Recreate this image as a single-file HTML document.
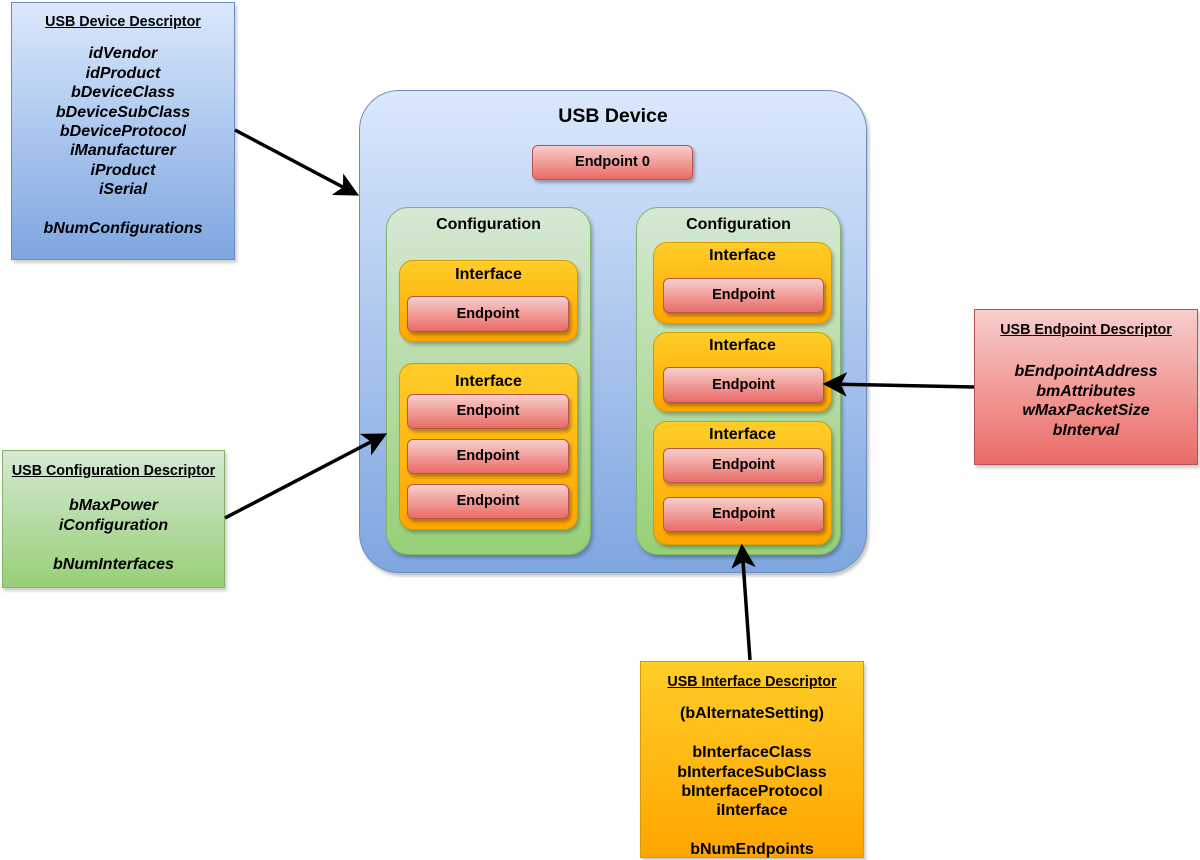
<!DOCTYPE html>
<html><head><meta charset="utf-8"><style>
body{margin:0;width:1200px;height:859px;background:#fff;position:relative;overflow:hidden;font-family:"Liberation Sans",sans-serif;font-weight:bold;color:#000}
.a{position:absolute;box-sizing:border-box}
.dev{left:359px;top:90px;width:508px;height:483px;border-radius:40px;border:1px solid #6c8ebf;background:linear-gradient(#dae8fc,#7ea6e0);box-shadow:2px 3px 3px rgba(0,0,0,.25)}
.cfg{border-radius:22px;border:1px solid #82b366;background:linear-gradient(#d5e8d4,#97d077);box-shadow:2px 3px 3px rgba(0,0,0,.25)}
.itf{border-radius:14px;border:1px solid #d79b00;background:linear-gradient(#ffcd28,#ffa500);box-shadow:2px 3px 3px rgba(0,0,0,.25)}
.ep{border-radius:6px;border:1px solid #b85450;background:linear-gradient(#f8cecc,#ea6b66);box-shadow:2px 3px 3px rgba(0,0,0,.3);text-align:center;font-size:14.5px}
.t{position:absolute;left:0;right:0;text-align:center;font-size:16px}
.desc{text-align:center;font-size:16px;line-height:19.4px;font-style:italic;border:1px solid;box-shadow:2px 3px 3px rgba(0,0,0,.2)}
.desc u{font-style:normal;font-size:14.3px}
</style></head><body>
<div class="a desc" style="left:11px;top:2px;width:224px;height:258px;border-color:#6c8ebf;background:linear-gradient(#dae8fc,#7ea6e0);padding-top:9px"><u>USB Device Descriptor</u><div style="height:12px"></div>idVendor<br>idProduct<br>bDeviceClass<br>bDeviceSubClass<br>bDeviceProtocol<br>iManufacturer<br>iProduct<br>iSerial<br><br>bNumConfigurations</div>
<div class="a desc" style="left:2px;top:450px;width:223px;height:138px;border-color:#82b366;background:linear-gradient(#d5e8d4,#97d077);padding-top:10px"><u>USB Configuration Descriptor</u><div style="height:15px"></div>bMaxPower<br>iConfiguration<br><br>bNumInterfaces</div>
<div class="a desc" style="left:974px;top:309px;width:224px;height:156px;border-color:#b85450;background:linear-gradient(#f8cecc,#ea6b66);padding-top:10px"><u>USB Endpoint Descriptor</u><div style="height:22px"></div>bEndpointAddress<br>bmAttributes<br>wMaxPacketSize<br>bInterval</div>
<div class="a desc" style="left:640px;top:661px;width:224px;height:197px;border-color:#d79b00;background:linear-gradient(#ffcd28,#ffa500);padding-top:10px;font-style:normal"><u>USB Interface Descriptor</u><div style="height:12px"></div>(bAlternateSetting)<br><br>bInterfaceClass<br>bInterfaceSubClass<br>bInterfaceProtocol<br>iInterface<br><br>bNumEndpoints</div>

<div class="a dev"><div class="t" style="top:14px;font-size:19.5px">USB Device</div></div>
<div class="a ep" style="left:532px;top:145px;width:161px;height:35px;line-height:33px">Endpoint 0</div>

<div class="a cfg" style="left:386px;top:207px;width:205px;height:348px"><div class="t" style="top:8px">Configuration</div></div>
<div class="a itf" style="left:399px;top:260px;width:179px;height:82px"><div class="t" style="top:5px">Interface</div></div>
<div class="a ep" style="left:407px;top:296px;width:162px;height:36px;line-height:34px">Endpoint</div>
<div class="a itf" style="left:399px;top:363px;width:179px;height:167px"><div class="t" style="top:9px">Interface</div></div>
<div class="a ep" style="left:407px;top:394px;width:162px;height:35px;line-height:33px">Endpoint</div>
<div class="a ep" style="left:407px;top:439px;width:162px;height:35px;line-height:33px">Endpoint</div>
<div class="a ep" style="left:407px;top:484px;width:162px;height:35px;line-height:33px">Endpoint</div>

<div class="a cfg" style="left:636px;top:207px;width:205px;height:348px"><div class="t" style="top:8px">Configuration</div></div>
<div class="a itf" style="left:653px;top:242px;width:179px;height:82px"><div class="t" style="top:4px">Interface</div></div>
<div class="a ep" style="left:663px;top:278px;width:161px;height:35px;line-height:33px">Endpoint</div>
<div class="a itf" style="left:653px;top:332px;width:179px;height:80px"><div class="t" style="top:4px">Interface</div></div>
<div class="a ep" style="left:663px;top:367px;width:161px;height:36px;line-height:34px">Endpoint</div>
<div class="a itf" style="left:653px;top:421px;width:179px;height:124px"><div class="t" style="top:4px">Interface</div></div>
<div class="a ep" style="left:663px;top:448px;width:161px;height:35px;line-height:33px">Endpoint</div>
<div class="a ep" style="left:663px;top:497px;width:161px;height:35px;line-height:33px">Endpoint</div>

<svg class="a" style="left:0;top:0" width="1200" height="859">
<defs><marker id="m" markerWidth="7" markerHeight="7" refX="6" refY="3.5" orient="auto" markerUnits="strokeWidth"><path d="M0,0 L7,3.5 L0,7 L1.8,3.5 z" fill="#000"/></marker></defs>
<g stroke="#000" stroke-width="3.5" fill="none" marker-end="url(#m)">
<line x1="235" y1="130" x2="356" y2="194"/>
<line x1="225" y1="518" x2="384" y2="435"/>
<line x1="974" y1="387" x2="826" y2="384"/>
<line x1="750" y1="660" x2="742" y2="547"/>
</g></svg>
</body></html>
